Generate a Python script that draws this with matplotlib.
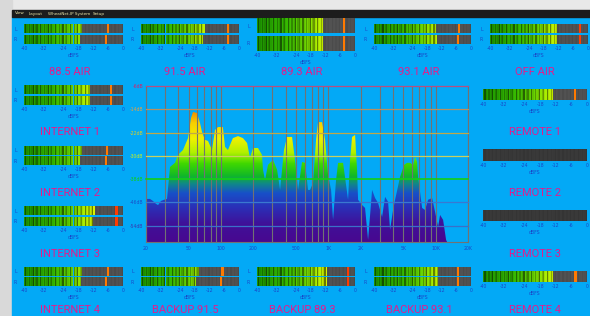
import numpy as np
import matplotlib

matplotlib.use("Agg")
import matplotlib.pyplot as plt
from matplotlib import font_manager
from matplotlib.colors import LinearSegmentedColormap, to_rgb
from matplotlib.patches import Rectangle
from matplotlib.ticker import NullFormatter

W, H = 590, 316

# spectrum analyser trace (Hz, dB)
FREQS = [20, 21.8, 23.2, 24.8, 25.9, 27.6, 29.4, 31.4, 33.5, 37.3, 39.7, 44.2,
         49.3, 52.5, 54.8, 59.8, 63.7, 66.5, 70.9, 75.7, 82.5, 87.9, 93.8, 104,
         109, 116, 129, 144, 160, 175, 186, 199, 221, 241, 246, 257, 274, 305,
         333, 355, 386, 412, 459, 489, 522, 569, 607, 647, 675, 720, 768, 802,
         874, 932, 994, 1060, 1106, 1180, 1232, 1371, 1462, 1526, 1593, 1663,
         1774, 1851, 1892, 2061, 2198, 2344, 2448, 2555, 2725, 2906, 3166, 3377,
         3601, 3759, 4009, 4186, 4659, 5078, 5415, 5774, 6158, 6428, 6710, 6855,
         7470, 7966, 8496, 9258, 9873, 10529, 10990, 11722, 12502, 12774]
LEVELS = [-44.8, -44.8, -45.5, -46.5, -46.9, -45.5, -45.1, -44.8, -33.8, -32.4,
          -29.7, -28.0, -23.9, -17.0, -14.9, -15.3, -18.7, -21.8, -24.5, -24.9,
          -28.0, -21.1, -20.1, -20.1, -26.9, -28.0, -23.9, -23.2, -23.9, -25.6,
          -30.7, -27.3, -27.3, -29.7, -34.8, -38.3, -33.1, -31.4, -34.8, -41.7,
          -28.0, -23.5, -23.5, -31.4, -41.7, -32.1, -32.4, -41.7, -41.7, -39.3,
          -24.5, -18.4, -18.4, -24.5, -36.6, -41.7, -52.0, -38.3, -32.4, -32.4,
          -40.0, -45.1, -31.4, -23.5, -22.8, -34.8, -45.1, -46.9, -47.9, -58.9,
          -50.3, -41.7, -44.5, -46.2, -51.0, -44.1, -45.8, -55.4, -48.6, -45.1,
          -37.2, -33.1, -32.4, -32.4, -33.1, -30.4, -32.1, -37.2, -47.9, -48.6,
          -45.1, -44.5, -49.3, -54.4, -50.3, -52.0, -58.9, -59.6]
DB_TICKS = [-6, -14, -22, -30, -38, -46, -54]
DB_LABELS = ["-6dB", "-14dB", "-22dB", "-30dB", "-38dB", "-46dB", "-54dB"]
FREQ_TICKS = [20, 50, 100, 200, 500, 1000, 2000, 5000, 10000, 20000]
FREQ_LABELS = ["20", "50", "100", "200", "500", "1K", "2K", "5K", "10K", "20K"]

# meters (dBFS)
METER_SCALE = [-40, -32, -24, -18, -12, -6, 0]
STEREO_NAMES = ["88.5 AIR", "91.5 AIR", "89.3 AIR", "93.1 AIR", "OFF AIR",
                "INTERNET 1", "INTERNET 2", "INTERNET 3", "INTERNET 4",
                "BACKUP 91.5", "BACKUP 89.3", "BACKUP 93.1"]
LEVEL_L = [-16.4, -14.0, -13.2, -14.6, -12.7, -13.5, -16.4, -11.3, -16.4, -16.6, -11.6, -13.5]
LEVEL_R = [-17.4, -14.5, -13.2, -14.1, -12.7, -13.3, -17.4, -12.0, -17.1, -17.6, -11.6, -13.5]
PEAK_L = [-6.2, -4.5, -4.4, -5.0, -3.3, -4.9, -6.5, -2.6, -6.2, -6.7, -2.7, -5.2]
PEAK_R = [-6.9, -4.5, -4.4, -5.2, -3.3, -4.9, -6.9, -2.6, -6.9, -7.3, -2.7, -5.2]

MONO_NAMES = ["REMOTE 1", "REMOTE 2", "REMOTE 3", "REMOTE 4"]
MONO_LEVEL = [-13.1, None, None, -12.8]
MONO_PEAK = [-4.6, None, None, -4.4]

# layout in screen pixels: bar box (x0, x1, top, bottom), title centre (x, y)
STEREO_BOX = [(24, 123, 24, 44), (141, 239, 24, 44), (257, 355, 18, 51),
              (374, 471, 24, 44), (490, 588, 24, 44),
              (24, 123, 85, 105), (24, 123, 146, 165), (24, 123, 206, 226),
              (24, 123, 267, 286), (141, 239, 267, 286), (257, 355, 267, 286),
              (374, 471, 267, 286)]
STEREO_TITLE = [(70, 72), (185, 72), (302, 72), (419, 72), (535, 72),
                (70, 132), (70, 193), (70, 254), (70, 310),
                (185, 310), (302, 310), (419, 310)]
MONO_BOX = [(483, 587, 89, 100), (483, 587, 149, 161), (483, 587, 210, 221),
            (483, 587, 271, 282)]
MONO_TITLE = [(535, 132), (535, 193), (535, 254), (535, 310)]

BLUE = "#03a9f6"
TITLE_COLOR = "#e31c8d"
TICK_COLOR = "#1a47c8"
SHADE = [1.0, 0.55, 0.92, 1.0, 0.72, 0.96, 0.85, 0.5, 1.0, 0.8, 0.65, 0.95]

_installed = {f.name for f in font_manager.fontManager.ttflist}
if "Liberation Sans Narrow" in _installed:
    TITLE_FONT, TITLE_SIZE = ["Liberation Sans Narrow", "DejaVu Sans"], 9
else:
    TITLE_FONT, TITLE_SIZE = ["Roboto", "DejaVu Sans"], 8

meter_cmap = LinearSegmentedColormap.from_list(
    "meter",
    [(0.0, "#1c9400"), (0.3, "#34b800"), (0.5, "#6cd400"),
     (0.6, "#a8ec00"), (0.72, "#dcf400"), (1.0, "#f0f000")],
)
spec_cmap = LinearSegmentedColormap.from_list(
    "spec",
    [(0.0, "#480890"), (0.11, "#401098"), (0.22, "#2a30b8"), (0.31, "#1850c8"),
     (0.37, "#108888"), (0.42, "#10b828"), (0.50, "#40d800"), (0.57, "#b0f000"),
     (0.66, "#f0f000"), (0.76, "#f8d000"), (0.83, "#f09000"), (0.92, "#f06000"),
     (1.0, "#f03000")],
)


def rect(x0, y0, x1, y1):
    return [x0 / W, 1 - y1 / H, (x1 - x0) / W, (y1 - y0) / H]


def draw_channel(ax, bottom, height, level, peak):
    w = 0.5
    centers = np.arange(-40 + w / 2, 0, w)
    cols = []
    for i, c in enumerate(centers):
        s = SHADE[i % len(SHADE)]
        if level is not None and c <= level:
            base = np.array(meter_cmap((c + 40) / 40)[:3])
        else:
            base = np.array(to_rgb("#525252")) * (1.0 if level is not None else 0.7)
            s = 0.8 + 0.2 * s
        cols.append(np.clip(base * s, 0, 1))
    ax.bar(centers, height, bottom=bottom, width=w, color=cols, linewidth=0)
    if peak is not None:
        pc = "#ff3c00" if peak > -3.5 else "#ff7a00"
        ax.bar([peak], height, bottom=bottom, width=0.9, color=pc, linewidth=0)


def style_meter(ax, stereo):
    ax.set_xlim(-40, 0)
    ax.set_facecolor(BLUE)
    for s in ax.spines.values():
        s.set_visible(False)
    ax.set_xticks(METER_SCALE)
    ax.set_xticklabels([str(v) for v in METER_SCALE])
    ax.tick_params(axis="x", length=0, pad=1.5, labelsize=3.3, labelcolor=TICK_COLOR)
    ax.set_xlabel("dBFS", fontsize=3.3, color=TICK_COLOR, labelpad=1.5)
    if stereo:
        ax.set_ylim(0, 2)
        ax.set_yticks([0.47, 1.53])
        ax.set_yticklabels(["R", "L"])
        ax.tick_params(axis="y", length=0, pad=5, labelsize=3.3, labelcolor=TICK_COLOR)
    else:
        ax.set_ylim(0, 1)
        ax.set_yticks([])


fig = plt.figure(figsize=(W / 100, H / 100), dpi=100, facecolor="#e8e8e8")
fig.patches.append(Rectangle((0, 0), 12 / W, 1, transform=fig.transFigure,
                             color="#d9d9d9", zorder=-3))
fig.patches.append(Rectangle((12 / W, 0), 1, 1 - 17 / H, transform=fig.transFigure,
                             color=BLUE, zorder=-2))
fig.patches.append(Rectangle((12 / W, 1 - 17 / H), 1, 7 / H, transform=fig.transFigure,
                             color="#1c1c1c", zorder=-2))
for label, x in zip(["View", "Layout", "WheatNet-IP System", "Setup"], [15, 29, 48, 93]):
    fig.text(x / W, 1 - 13.5 / H, label, fontsize=3, color="#e8e4a8", va="center")

# stereo meters
for i, name in enumerate(STEREO_NAMES):
    x0, x1, t, b = STEREO_BOX[i]
    ax = fig.add_axes(rect(x0, t, x1, b))
    style_meter(ax, True)
    draw_channel(ax, 1.07, 0.93, LEVEL_L[i], PEAK_L[i])
    draw_channel(ax, 0.0, 0.93, LEVEL_R[i], PEAK_R[i])
    tx, ty = STEREO_TITLE[i]
    fig.text(tx / W, 1 - ty / H, name, fontsize=TITLE_SIZE, color=TITLE_COLOR,
             ha="center", va="center", family=TITLE_FONT)

# mono meters
for i, name in enumerate(MONO_NAMES):
    x0, x1, t, b = MONO_BOX[i]
    ax = fig.add_axes(rect(x0, t, x1, b))
    style_meter(ax, False)
    draw_channel(ax, 0.0, 1.0, MONO_LEVEL[i], MONO_PEAK[i])
    tx, ty = MONO_TITLE[i]
    fig.text(tx / W, 1 - ty / H, name, fontsize=TITLE_SIZE, color=TITLE_COLOR,
             ha="center", va="center", family=TITLE_FONT)

# spectrum analyser
ax = fig.add_axes(rect(146, 86, 468, 242))
ax.set_facecolor(BLUE)
ax.set_xscale("log")
ylo, yhi = -59.6, -6
poly = ax.fill_between(FREQS, LEVELS, ylo, facecolor="none", linewidth=0)
grad = np.linspace(1, 0, 256).reshape(-1, 1)
im = ax.imshow(grad, cmap=spec_cmap, aspect="auto", extent=[20, 20000, ylo, yhi],
               origin="upper", zorder=1, interpolation="bilinear")
im.set_clip_path(poly.get_paths()[0], transform=ax.transData)
ax.set_xlim(20, 20000)
ax.set_ylim(ylo, yhi)
ax.grid(which="both", axis="x", color="#727272", linewidth=0.8, zorder=3)
ax.set_axisbelow(False)
line_colors = ["#b84e80", "#b89060", "#c0a848", "#c8d060", "#14d014", "#3a78d0", "#3a70c8"]
label_colors = ["#d8206a", "#e8a040", "#e0d020", "#c8f020", "#10d010", "#1850c8", "#3838b0"]
for v, c in zip(DB_TICKS, line_colors):
    ax.axhline(v, color=c, linewidth=1.2 if v == -38 else 0.9, zorder=4, clip_on=False)
ax.set_yticks(DB_TICKS)
ax.set_yticklabels(DB_LABELS)
for lbl, c in zip(ax.get_yticklabels(), label_colors):
    lbl.set_color(c)
ax.set_xticks(FREQ_TICKS)
ax.set_xticklabels(FREQ_LABELS)
ax.xaxis.set_minor_formatter(NullFormatter())
ax.tick_params(axis="both", which="both", length=0, labelsize=3.3)
ax.tick_params(axis="x", labelcolor=TICK_COLOR, pad=3)
ax.tick_params(axis="y", pad=2)
for s in ax.spines.values():
    s.set_color("#727272")
    s.set_linewidth(0.8)
ax.spines["top"].set_visible(False)

fig.savefig("out.png", dpi=100, facecolor=fig.get_facecolor())
